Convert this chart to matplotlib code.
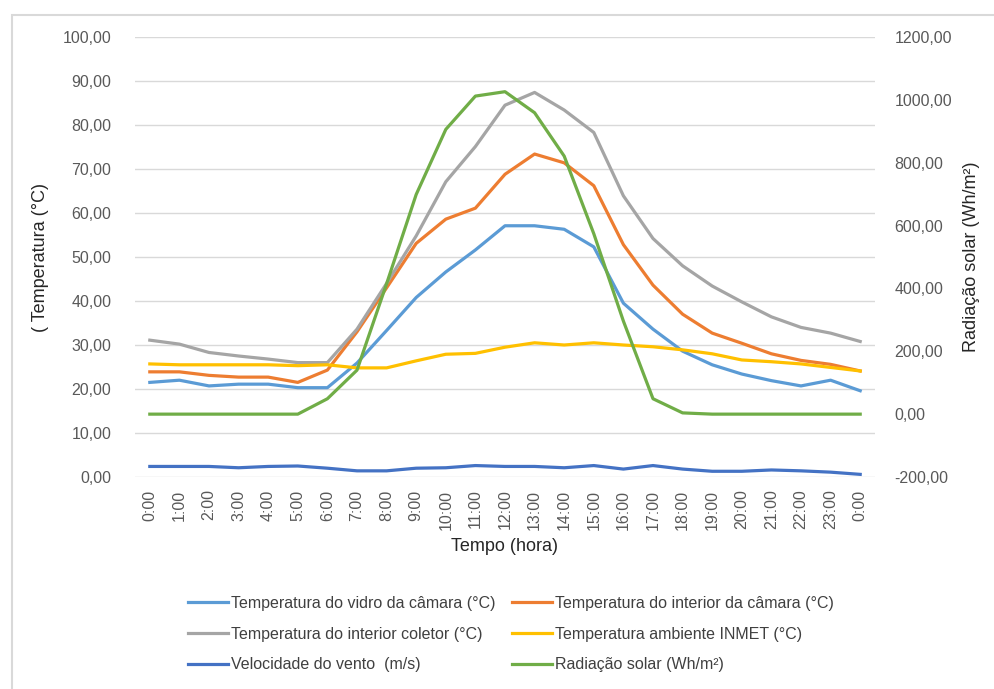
import numpy as np
import matplotlib.pyplot as plt
from matplotlib.ticker import FuncFormatter, MultipleLocator
from matplotlib.patches import Rectangle

plt.rcParams['font.family'] = ['Liberation Sans', 'DejaVu Sans']

# Horas do dia (0:00 ate 0:00 do dia seguinte)
horas = ['0:00', '1:00', '2:00', '3:00', '4:00', '5:00', '6:00', '7:00',
         '8:00', '9:00', '10:00', '11:00', '12:00', '13:00', '14:00',
         '15:00', '16:00', '17:00', '18:00', '19:00', '20:00', '21:00',
         '22:00', '23:00', '0:00']

# Series de temperatura (°C) e vento (m/s) - eixo esquerdo
t_vidro = [21.5, 22.0, 20.7, 21.1, 21.1, 20.3, 20.3, 25.9, 33.3, 40.8, 46.6,
           51.6, 57.1, 57.1, 56.3, 52.3, 39.5, 33.6, 28.6, 25.5, 23.4, 21.9,
           20.7, 22.0, 19.6]
t_camara = [23.9, 23.9, 23.1, 22.7, 22.7, 21.5, 24.3, 33.0, 43.0, 53.1, 58.6,
            61.1, 68.8, 73.4, 71.4, 66.2, 52.8, 43.6, 37.0, 32.7, 30.4, 28.0,
            26.5, 25.6, 24.1]
t_coletor = [31.1, 30.2, 28.3, 27.5, 26.8, 26.0, 26.0, 33.6, 44.0, 54.8,
             67.1, 75.1, 84.5, 87.4, 83.4, 78.3, 63.9, 54.2, 48.0, 43.4,
             39.8, 36.4, 34.0, 32.7, 30.8]
t_ambiente = [25.7, 25.5, 25.5, 25.5, 25.5, 25.3, 25.5, 24.8, 24.8, 26.4,
              27.9, 28.1, 29.5, 30.5, 30.0, 30.5, 30.0, 29.6, 28.9, 28.0,
              26.6, 26.2, 25.7, 24.9, 24.1]
vento = [2.4, 2.4, 2.4, 2.1, 2.4, 2.5, 2.0, 1.4, 1.4, 2.0, 2.1, 2.6, 2.4,
         2.4, 2.1, 2.6, 1.8, 2.6, 1.8, 1.3, 1.3, 1.6, 1.4, 1.1, 0.6]

# Radiacao solar (Wh/m²) - eixo direito
radiacao = [0, 0, 0, 0, 0, 0, 49, 140, 415, 699, 906, 1012, 1026, 959, 821,
            574, 296, 49, 4, 0, 0, 0, 0, 0, 0]

x = np.arange(len(horas))

fig = plt.figure(figsize=(9.95, 6.89), dpi=100)
fig.patches.append(Rectangle((12 / 995, -0.1), 1.1, 1 - 15 / 689 + 0.1,
                             transform=fig.transFigure, fill=False,
                             edgecolor='#D9D9D9', linewidth=1.5))

ax = fig.add_axes([135 / 995, 212 / 689, 740 / 995, 440 / 689])
ax2 = ax.twinx()

lw = 2.3
l1, = ax.plot(x, t_vidro, color='#5B9BD5', lw=lw,
              label='Temperatura do vidro da câmara (°C)')
l2, = ax.plot(x, t_camara, color='#ED7D31', lw=lw,
              label='Temperatura do interior da câmara (°C)')
l3, = ax.plot(x, t_coletor, color='#A5A5A5', lw=lw,
              label='Temperatura do interior coletor (°C)')
l4, = ax.plot(x, t_ambiente, color='#FFC000', lw=lw,
              label='Temperatura ambiente INMET (°C)')
l5, = ax.plot(x, vento, color='#4472C4', lw=lw,
              label='Velocidade do vento  (m/s)')
l6, = ax2.plot(x, radiacao, color='#70AD47', lw=lw,
               label='Radiação solar (Wh/m²)')

fmt = FuncFormatter(lambda v, p: f'{v:.2f}'.replace('.', ','))

ax.set_xlim(-0.5, len(horas) - 0.5)
ax.set_ylim(0, 100)
ax.yaxis.set_major_locator(MultipleLocator(10))
ax.yaxis.set_major_formatter(fmt)
ax2.set_ylim(-200, 1200)
ax2.yaxis.set_major_locator(MultipleLocator(200))
ax2.yaxis.set_major_formatter(fmt)

ax.set_xticks(x)
ax.set_xticklabels(horas, rotation=90)

ax.grid(axis='y', color='#D9D9D9', linewidth=1)
ax.set_axisbelow(True)
for a in (ax, ax2):
    for s in a.spines.values():
        s.set_visible(False)
    a.tick_params(length=0, labelsize=11.5, colors='#595959')
ax.tick_params(axis='y', pad=17)
ax.tick_params(axis='x', pad=9)
ax2.tick_params(axis='y', pad=14)

ax.set_xlabel('Tempo (hora)', fontsize=13, color='#262626', labelpad=6)
ax.set_ylabel('( Temperatura (°C)', fontsize=13, color='#262626',
              labelpad=10)
ax2.set_ylabel('Radiação solar (Wh/m²)', fontsize=13, color='#262626',
               labelpad=8)

# ordem por linhas, como no Excel
fig.legend(handles=[l1, l3, l5, l2, l4, l6], ncol=2, frameon=False,
           loc='center', bbox_to_anchor=(511 / 995, 1 - 634 / 689),
           fontsize=11.5, handlelength=2.5, handletextpad=0.2,
           columnspacing=1.0, labelspacing=1.0, labelcolor='#404040')

fig.savefig('out.png', dpi=100)
